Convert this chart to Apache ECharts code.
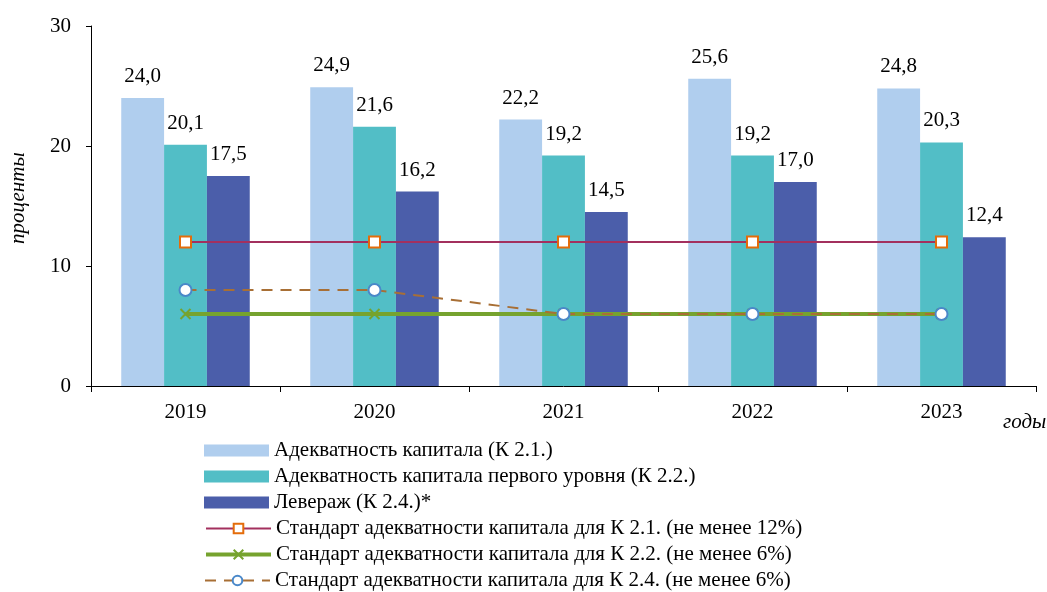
<!DOCTYPE html>
<html><head><meta charset="utf-8">
<script src="https://cdn.jsdelivr.net/npm/echarts@6/dist/echarts.min.js"></script>
<style>html,body{margin:0;padding:0;background:#fff}#c{width:1047px;height:592px}</style>
</head><body><div id="c"></div>
<script>
const years = ['2019','2020','2021','2022','2023'];
const k21 = [24.0, 24.9, 22.2, 25.6, 24.8];
const k22 = [20.1, 21.6, 19.2, 19.2, 20.3];
const k24 = [17.5, 16.2, 14.5, 17.0, 12.4];
const std21 = [12, 12, 12, 12, 12];
const std22 = [6, 6, 6, 6, 6];
const std24 = [8, 8, 6, 6, 6];
const yTicks = [0, 10, 20, 30];
const names = [
  'Адекватность капитала (К 2.1.)',
  'Адекватность капитала первого уровня (К 2.2.)',
  'Левераж (К 2.4.)*',
  'Стандарт адекватности капитала для К 2.1. (не менее 12%)',
  'Стандарт адекватности капитала для К 2.2. (не менее 6%)',
  'Стандарт адекватности капитала для К 2.4. (не менее 6%)'
];
const FONT = '"Liberation Serif","Times New Roman",serif';
const FS = 21;
const fmt = p => p.value.toFixed(1).replace('.', ',');
const barLabel = {show: true, position: 'top', distance: 11, formatter: fmt, fontFamily: FONT, fontSize: FS, color: '#000'};
const legendBase = {orient: 'vertical', left: 199, itemWidth: 65, itemHeight: 12, itemGap: 5,
  textStyle: {fontFamily: FONT, fontSize: FS, color: '#000'}};
const chart = echarts.init(document.getElementById('c'));
chart.setOption({
  animation: false,
  textStyle: {fontFamily: FONT},
  grid: {left: 91, right: 11, top: 26, bottom: 206},
  legend: [
    Object.assign({}, legendBase, {top: 435, data: names.slice(0, 3).map(n => ({name: n, icon: 'rect'}))}),
    Object.assign({}, legendBase, {top: 513, data: [names[3], {name: names[4], lineStyle: {width: 4}}]}),
    Object.assign({}, legendBase, {top: 565, data: [names[5]]})
  ],
  xAxis: {
    type: 'category', data: years, boundaryGap: true,
    axisLine: {lineStyle: {color: '#000', width: 1}},
    axisTick: {show: true, length: 6, lineStyle: {color: '#000'}},
    axisLabel: {fontFamily: FONT, fontSize: FS, color: '#000', margin: 16}
  },
  yAxis: {
    type: 'value', min: 0, max: 30, interval: 10,
    axisLine: {show: true, lineStyle: {color: '#000'}},
    axisTick: {show: true, length: 5, lineStyle: {color: '#000'}},
    axisLabel: {fontFamily: FONT, fontSize: FS, color: '#000', margin: 20,
      formatter: v => yTicks.includes(v) ? String(v) : ''},
    splitLine: {show: false}
  },
  graphic: [
    {type: 'text', x: 1003, y: 412, style: {text: 'годы', font: 'italic ' + FS + 'px ' + FONT, fill: '#000'}},
    {type: 'text', x: 8, y: 244, rotation: Math.PI / 2, style: {text: 'проценты', font: 'italic ' + FS + 'px ' + FONT, fill: '#000'}}
  ],
  series: [
    {name: names[0], type: 'bar', data: k21, barGap: '0%', barCategoryGap: '32%', itemStyle: {color: '#B0CEEE'}, label: barLabel},
    {name: names[1], type: 'bar', data: k22, itemStyle: {color: '#52BEC6'}, label: barLabel},
    {name: names[2], type: 'bar', data: k24, itemStyle: {color: '#4B5EAA'}, label: barLabel},
    {name: names[3], type: 'line', data: std21, symbol: 'rect', symbolSize: 11,
      lineStyle: {color: '#A3305E', width: 2}, itemStyle: {color: '#fff', borderColor: '#E46C0A', borderWidth: 2}, z: 5},
    {name: names[4], type: 'line', data: std22, symbol: 'path://M0,0L10,10M10,0L0,10', symbolSize: 10,
      lineStyle: {color: '#76A32E', width: 4}, itemStyle: {color: 'rgba(0,0,0,0)', borderColor: '#76A32E', borderWidth: 2}, z: 6},
    {name: names[5], type: 'line', data: std24, symbol: 'circle', symbolSize: 12,
      lineStyle: {color: '#A86F35', width: 2, type: [11, 8]}, itemStyle: {color: '#fff', borderColor: '#4A88C9', borderWidth: 2}, z: 7}
  ]
});
</script></body></html>
